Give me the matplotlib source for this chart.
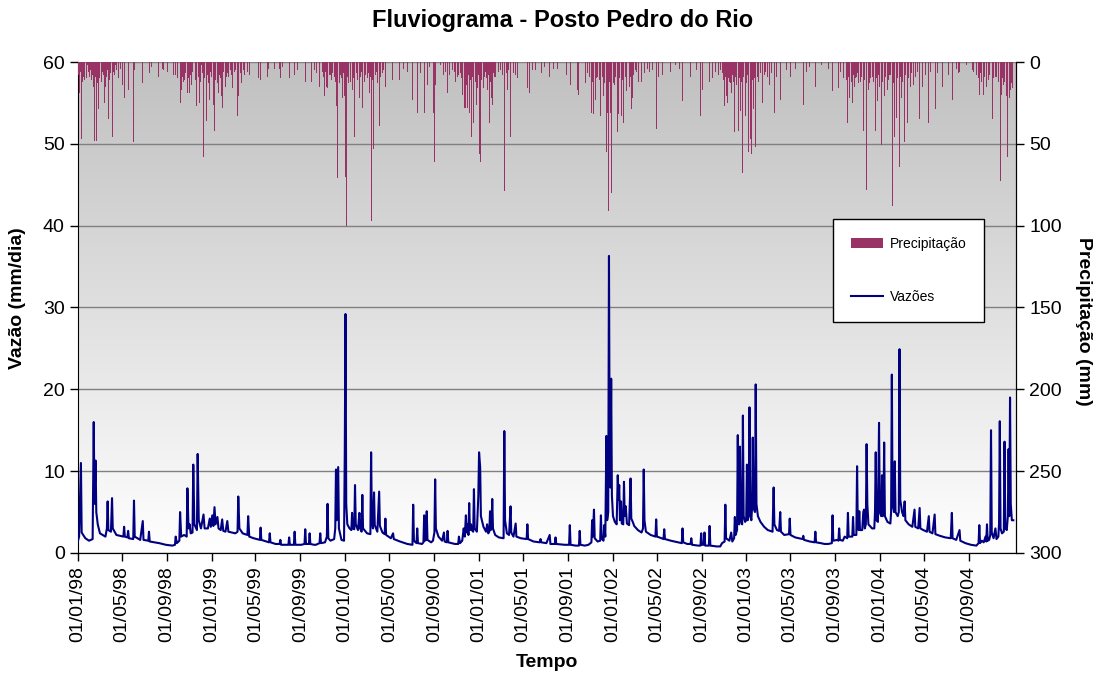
import numpy as np
import pandas as pd
import matplotlib
matplotlib.use('Agg')
import matplotlib.pyplot as plt
import matplotlib.dates as mdates
from matplotlib.colors import LinearSegmentedColormap

# ----- dados (dias contados a partir de 01/01/1998) -----
INICIO = '1998-01-01'

dias_vazao = [
    # 1998
    0, 3, 8, 10, 20, 30, 40, 43, 45, 48, 50, 54, 60, 75, 79, 81, 83, 90, 93, 95, 105, 124, 126, 128,
    135, 137, 139, 151, 153, 155, 170, 177, 179, 192, 194, 196, 222, 240, 258, 265, 267, 270, 277,
    279, 282, 290, 297, 299, 302, 305, 308, 313, 315, 318, 325, 327, 330, 336, 343, 346, 355, 360,
    # 1999
    363, 367, 370, 373, 376, 381, 384, 390, 394, 397, 403, 408, 411, 420, 430, 436, 438, 441, 450,
    463, 465, 468, 480, 497, 499, 501, 515, 522, 524, 526, 540, 551, 553, 555, 575, 577, 579, 590,
    592, 594, 610, 619, 621, 623, 631, 633, 635, 645, 650, 660, 662, 664, 675, 680, 682, 684, 690,
    700, 703, 705, 707, 711, 713, 720, 727, 729,
    # 2000
    731, 733, 736, 742, 747, 749, 751, 755, 757, 759, 765, 769, 771, 775, 777, 779, 790, 799, 801,
    803, 806, 809, 811, 818, 823, 825, 832, 838, 840, 842, 855, 861, 863, 880, 900, 914, 916, 918,
    925, 927, 929, 940, 944, 946, 948, 951, 953, 955, 965, 970, 974, 976, 978, 985, 995, 1000, 1002,
    1008, 1010, 1012, 1030, 1039, 1041, 1044, 1050, 1054, 1057, 1060, 1062, 1065, 1067, 1069, 1071,
    1074, 1076, 1080, 1082, 1084, 1090, 1094,
    # 2001
    1096, 1099, 1101, 1108, 1115, 1118, 1121, 1124, 1126, 1128, 1130, 1132, 1134, 1140, 1150, 1163,
    1165, 1167, 1172, 1178, 1182, 1184, 1190, 1196, 1198, 1210, 1226, 1228, 1230, 1245, 1262, 1264,
    1266, 1280, 1289, 1291, 1303, 1305, 1307, 1330, 1342, 1344, 1346, 1360, 1369, 1371, 1373, 1385,
    1395, 1403, 1405, 1407, 1410, 1412, 1420, 1427, 1429, 1431, 1436, 1438, 1441, 1444, 1446, 1449,
    1451, 1453, 1455,
    # 2002
    1457, 1459, 1462, 1467, 1472, 1475, 1477, 1479, 1481, 1484, 1486, 1490, 1492, 1494, 1497, 1500,
    1506, 1510, 1512, 1516, 1520, 1530, 1540, 1544, 1546, 1548, 1552, 1565, 1578, 1580, 1582, 1595,
    1600, 1602, 1604, 1620, 1640, 1650, 1652, 1654, 1665, 1674, 1676, 1678, 1695, 1701, 1703, 1705,
    1710, 1712, 1714, 1724, 1726, 1728, 1745, 1755, 1760, 1767, 1769, 1771, 1780, 1785, 1788, 1793,
    1795, 1797, 1801, 1803, 1805, 1807, 1809, 1811, 1815, 1817, 1819, 1823,
    # 2003
    1826, 1828, 1830, 1833, 1835, 1837, 1840, 1842, 1844, 1846, 1850, 1852, 1854, 1858, 1865, 1875,
    1885, 1898, 1901, 1903, 1910, 1916, 1919, 1921, 1930, 1943, 1945, 1947, 1960, 1980, 1982, 1984,
    2000, 2013, 2015, 2017, 2030, 2040, 2050, 2060, 2062, 2064, 2075, 2078, 2080, 2082, 2090, 2095,
    2102, 2104, 2106, 2112, 2116, 2118, 2120, 2127, 2129, 2131, 2133, 2135, 2137, 2143, 2146, 2148,
    2150, 2153, 2155, 2157, 2160, 2170, 2176, 2178, 2180, 2182, 2186, 2189,
    # 2004
    2191, 2195, 2197, 2199, 2201, 2203, 2205, 2212, 2220, 2222, 2224, 2226, 2230, 2232, 2234, 2240,
    2243, 2245, 2247, 2252, 2256, 2259, 2261, 2270, 2280, 2286, 2288, 2296, 2300, 2302, 2310, 2320,
    2325, 2327, 2335, 2341, 2343, 2355, 2370, 2385, 2388, 2390, 2400, 2409, 2411, 2425, 2440, 2455,
    2461, 2463, 2465, 2470, 2475, 2480, 2482, 2484, 2486, 2490, 2493, 2495, 2497, 2502, 2507, 2510,
    2515, 2517, 2519, 2521, 2525, 2530, 2532, 2534, 2538, 2541, 2543, 2545, 2547, 2549, 2552, 2556,
]

vazao = [
    # 1998
    1.5, 2.0, 11.0, 2.5, 1.8, 1.5, 1.7, 16.0, 6.0, 11.3, 5.0, 3.5, 2.4, 2.0, 3.0, 6.3, 2.8, 2.6, 6.7,
    3.0, 2.2, 2.0, 3.2, 2.0, 1.9, 2.7, 1.8, 1.7, 6.4, 2.0, 1.6, 3.9, 1.6, 1.5, 2.6, 1.4, 1.2, 1.0,
    0.9, 1.0, 2.0, 1.2, 1.5, 5.0, 2.0, 2.2, 2.0, 7.9, 3.0, 3.5, 2.4, 2.5, 10.8, 3.5, 2.8, 12.1, 4.0,
    3.0, 4.7, 3.0, 3.0, 4.2,
    # 1999
    3.2, 4.6, 3.3, 5.6, 3.5, 4.4, 3.0, 2.8, 4.1, 2.7, 2.6, 3.9, 2.6, 2.5, 2.4, 2.6, 6.9, 3.0, 2.4,
    2.2, 4.5, 2.0, 1.8, 1.6, 3.1, 1.6, 1.4, 1.3, 2.4, 1.3, 1.1, 1.1, 1.6, 1.0, 1.0, 1.9, 1.0, 1.0,
    2.6, 1.0, 1.0, 1.1, 2.9, 1.1, 1.1, 2.4, 1.1, 1.0, 1.0, 1.2, 2.4, 1.2, 1.3, 2.0, 6.0, 1.8, 1.5,
    1.7, 3.0, 10.2, 4.0, 10.5, 3.0, 1.6, 1.5, 12.0,
    # 2000
    29.2, 6.0, 3.5, 3.0, 2.8, 4.9, 3.0, 2.9, 8.3, 3.5, 2.8, 4.9, 3.0, 2.6, 7.1, 3.0, 2.4, 2.3, 12.3,
    4.0, 3.0, 7.4, 3.4, 2.6, 7.5, 3.3, 2.5, 2.3, 4.2, 2.2, 1.8, 2.4, 1.7, 1.4, 1.1, 1.0, 5.9, 1.5,
    1.2, 3.0, 1.2, 1.1, 1.3, 4.6, 1.5, 1.6, 5.1, 1.6, 1.3, 1.5, 2.5, 9.0, 3.0, 2.0, 1.5, 2.5, 1.4,
    1.3, 2.7, 1.3, 1.1, 1.1, 2.0, 1.2, 1.5, 3.0, 2.0, 4.6, 2.5, 3.5, 2.2, 6.1, 2.8,
    3.5, 2.8, 2.6, 7.8, 3.0, 2.6, 7.0,
    # 2001
    12.3, 10.5, 4.5, 3.2, 2.6, 3.5, 2.4, 2.6, 5.1, 2.8, 3.0, 6.6, 3.0, 2.2, 1.9, 1.8,
    14.9, 4.0, 2.4, 2.2, 5.7, 2.5, 2.0, 3.6, 2.0, 1.8, 1.7, 3.5, 1.7, 1.4, 1.3, 1.7,
    1.3, 1.2, 2.2, 1.1, 1.1, 1.9, 1.1, 1.0, 1.0, 3.4, 1.0, 0.9, 0.9, 2.7, 1.0, 0.9,
    1.0, 1.3, 4.0, 2.0, 5.3, 1.8, 1.4, 1.5, 4.6, 1.8, 1.5, 3.4, 2.0, 14.3, 4.0, 5.0,
    36.3, 10.0, 8.0,
    # 2002
    21.3, 7.0, 4.5, 3.8, 3.5, 9.5, 6.5, 8.3, 4.0, 6.3, 3.6, 3.5, 8.7, 4.5, 5.7, 3.6,
    3.4, 9.1, 4.2, 3.8, 3.3, 2.8, 2.5, 3.0, 10.2, 4.0, 2.6, 2.2, 2.0, 4.1, 2.0, 1.8,
    1.7, 2.9, 1.7, 1.5, 1.3, 1.2, 3.0, 1.3, 1.1, 1.1, 1.8, 1.0, 0.9, 0.9, 2.4, 1.0,
    1.0, 2.5, 0.9, 0.9, 3.3, 0.9, 0.8, 0.8, 1.2, 1.4, 5.9, 1.8, 1.5, 2.5, 1.4, 1.8,
    4.4, 2.2, 2.8, 14.4, 4.0, 3.5, 13.0, 4.0, 3.5, 16.8, 4.5, 3.8,
    # 2003
    4.0, 10.8, 4.0, 4.5, 17.8, 5.0, 4.0, 5.5, 14.1, 5.5, 5.0, 20.6, 6.0, 4.5, 3.8, 3.2,
    2.8, 2.6, 8.0, 3.5, 2.8, 2.7, 5.0, 2.6, 2.2, 2.3, 4.2, 2.2, 1.9, 1.7, 2.1, 1.6,
    1.4, 1.3, 2.6, 1.3, 1.2, 1.1, 1.1, 1.2, 4.6, 1.5, 1.6, 1.5, 3.0, 1.6, 1.5, 2.0,
    1.8, 4.9, 2.0, 2.0, 2.0, 4.4, 2.2, 2.2, 10.6, 3.0, 2.8, 5.1, 2.8, 2.8, 5.0, 5.3,
    3.0, 3.5, 13.3, 6.0, 3.5, 3.0, 3.0, 5.0, 12.3, 4.0, 3.8, 15.9,
    # 2004
    5.0, 4.5, 9.5, 4.5, 4.8, 13.5, 4.5, 3.8, 3.6, 5.0, 21.8, 6.0, 5.0, 11.2, 5.0, 4.5,
    5.0, 24.9, 6.5, 5.0, 4.5, 6.3, 4.0, 3.5, 3.2, 5.3, 3.2, 3.0, 5.5, 3.0, 2.8, 2.6,
    4.5, 2.6, 2.4, 4.7, 2.3, 2.1, 1.9, 1.8, 4.9, 1.8, 1.6, 2.8, 1.5, 1.2, 1.0, 0.9,
    1.2, 3.4, 1.2, 1.5, 1.3, 2.0, 1.4, 3.5, 1.5, 1.6, 2.2, 15.0, 2.5, 1.8, 3.0, 1.7,
    2.0, 3.6, 16.1, 3.0, 2.4, 2.6, 13.6, 3.0, 2.8, 4.5, 12.7, 4.5, 19.0, 6.0, 4.0, 4.0,
]

# chuvas mais fortes (mm)
dias_chuva = [
    5, 10, 13, 19, 25, 40, 42, 45, 50, 53, 55, 58, 72, 75, 80, 83, 86, 94, 102, 110, 121, 126, 137,
    151, 154, 175, 196, 219, 235, 244, 260, 267, 273, 279, 282, 292, 298, 304, 317, 325, 331, 337,
    342, 350, 360, 369, 372, 380, 383, 392, 394, 402, 405, 423, 431, 436, 439, 448, 464, 469, 492,
    500, 519, 538, 551, 554, 578, 592, 622, 639, 660, 667, 673, 680, 682, 690, 696, 706, 710, 714,
    723, 728, 731, 734, 740, 749, 756, 769, 778, 796, 802, 808, 819, 824, 841, 859, 879, 914, 928,
    936, 947, 955, 960, 971, 974, 977, 990, 999, 1010, 1023, 1032, 1041, 1050, 1055, 1060, 1064,
    1069, 1075, 1082, 1089, 1093, 1098, 1100, 1107, 1119, 1124, 1130, 1132, 1139, 1155, 1165, 1173,
    1181, 1189, 1196, 1200, 1228, 1233, 1241, 1266, 1288, 1300, 1334, 1345, 1365, 1369, 1388, 1402,
    1410, 1414, 1420, 1429, 1435, 1443, 1446, 1448, 1451, 1455, 1459, 1464, 1473, 1478, 1484, 1492,
    1500, 1507, 1512, 1514, 1523, 1533, 1539, 1544, 1557, 1561, 1582, 1587, 1598, 1632, 1653, 1675,
    1702, 1707, 1725, 1734, 1755, 1766, 1771, 1775, 1781, 1786, 1795, 1805, 1811, 1816, 1823, 1833,
    1837, 1841, 1847, 1852, 1870, 1891, 1904, 1909, 1919, 1936, 1948, 1983, 2015, 2032, 2050, 2062,
    2077, 2091, 2103, 2109, 2116, 2123, 2128, 2134, 2146, 2154, 2159, 2166, 2179, 2186, 2191, 2195,
    2204, 2212, 2218, 2225, 2232, 2237, 2244, 2250, 2259, 2266, 2274, 2283, 2300, 2308, 2323, 2342,
    2348, 2363, 2379, 2389, 2405, 2427, 2448, 2463, 2475, 2484, 2498, 2506, 2520, 2524, 2532, 2536,
    2541, 2545, 2548,
]

chuva = [
    19, 47, 12, 11, 2, 8, 15, 48, 48, 13, 29, 10, 25, 15, 5, 35, 11, 46, 2, 10, 14, 22, 17,
    49, 5, 13, 7, 9, 5, 6, 8, 8, 10, 25, 17, 11, 19, 19, 33, 27, 25, 2,
    58, 36, 23, 26, 42, 13, 19, 21, 28, 15, 9, 16, 5, 33, 21, 13, 6, 8, 10,
    11, 9, 4, 4, 10, 10, 8, 12, 12, 15, 6, 21, 15, 16, 8, 7, 27, 71, 13,
    22, 21, 70, 100, 13, 17, 46, 22, 28, 19, 97, 53, 13, 39, 15, 11, 11, 23, 31,
    7, 31, 14, 3, 31, 61, 14, 2, 8, 19, 5, 12, 8, 20, 28, 28, 28,
    31, 46, 37, 26, 16, 56, 61, 16, 17, 37, 22, 26, 9, 5, 79, 17,
    46, 7, 8, 10, 16, 19, 5, 7, 9, 4, 8, 14, 17, 20, 13, 31,
    32, 23, 9, 33, 21, 55, 24, 31, 91, 31, 80, 13, 43, 32, 33, 37,
    18, 15, 29, 22, 5, 12, 12, 32, 4, 6, 41, 9, 8, 2, 24, 9,
    33, 17, 12, 10, 5, 27, 21, 25, 12, 19, 43, 42, 30, 68, 33, 55,
    47, 56, 29, 52, 25, 14, 31, 9, 23, 5, 9, 26, 15, 2, 4, 18,
    16, 10, 37, 22, 25, 15, 9, 13, 42, 78, 17, 10, 42, 24, 15, 51,
    21, 17, 8, 88, 46, 34, 64, 22, 49, 37, 15, 14, 35, 15, 37, 29,
    7, 15, 8, 23, 7, 2, 6, 20, 20, 15, 35, 9, 73, 20, 12, 21,
    58, 22, 17,
]

# chuvas miudas, que preenchem as estacoes chuvosas (mm)
dias_chuva_miuda = [
    2, 4, 7, 15, 17, 22, 28, 31, 34, 37, 47, 60, 63, 66, 69, 77, 89, 97, 100, 106, 115,
    276, 285, 288, 295, 301, 307, 310, 313, 320, 328, 334, 340, 345, 353, 356, 363, 366, 375, 377,
    386, 389, 397, 399, 408, 412, 416, 420, 427, 445, 452, 456,
    645, 652, 670, 677, 686, 693, 700, 703, 716, 719, 726, 737, 744, 746, 752, 760, 763, 772, 775,
    782, 786, 790, 793, 799, 805, 812, 815, 828, 832, 836,
    1005, 1015, 1028, 1036, 1045, 1047, 1052, 1057, 1062, 1067, 1072, 1078, 1085, 1087, 1091, 1095,
    1102, 1104, 1110, 1113, 1116, 1121, 1127, 1135, 1142, 1148, 1160, 1170, 1177,
    1392, 1398, 1405, 1407, 1417, 1424, 1426, 1432, 1438, 1440, 1453, 1457, 1462, 1467, 1470, 1476,
    1481, 1487, 1489, 1495, 1498, 1503, 1510, 1518, 1527, 1548, 1570,
    1742, 1750, 1760, 1763, 1769, 1778, 1784, 1789, 1792, 1798, 1800, 1808, 1813, 1819, 1826, 1829,
    1844, 1849, 1856, 1860, 1865, 1875, 1880, 1885, 1896,
    2085, 2096, 2100, 2106, 2113, 2119, 2126, 2131, 2138, 2142, 2150, 2162, 2170, 2174, 2182, 2188,
    2199, 2208, 2215, 2221, 2228, 2240, 2247, 2254, 2262, 2270, 2278, 2290, 2295, 2315, 2330,
    2445, 2455, 2460, 2467, 2470, 2478, 2488, 2492, 2501, 2511, 2515, 2527, 2529, 2539, 2550, 2553,
    2555,
    200, 230, 520, 560, 600, 890, 900, 1250, 1275, 1310, 1620, 1645, 1690, 1960, 1990, 2000, 2380,
    2400, 2410,
]

chuva_miuda = [
    8, 12, 6, 9, 7, 10, 6, 9, 5, 11, 9, 7, 12, 6, 8, 9, 7, 6, 8, 5, 4,
    6, 9, 12, 7, 10, 8, 14, 6, 11, 9, 12, 7, 10, 8, 13, 6, 9, 11, 7,
    8, 10, 6, 12, 7, 9, 5, 8, 6, 7, 5, 8,
    5, 7, 9, 6, 8, 11, 9, 12, 8, 10, 7, 9, 12, 8, 10, 7, 11, 9, 6,
    12, 8, 10, 7, 9, 11, 8, 6, 9, 7, 5,
    6, 8, 6, 9, 7, 10, 12, 9, 14, 8, 11, 9, 12, 7, 10, 8,
    11, 7, 9, 6, 10, 8, 12, 7, 9, 6, 8, 7, 5,
    7, 9, 12, 8, 10, 7, 11, 9, 13, 8, 12, 9, 10, 14, 9, 12,
    10, 8, 11, 9, 13, 7, 9, 8, 6, 7, 5,
    6, 8, 7, 11, 9, 10, 13, 8, 12, 9, 14, 10, 12, 9, 13, 8,
    11, 10, 9, 12, 7, 8, 6, 9, 7,
    6, 8, 11, 9, 12, 8, 10, 7, 12, 9, 11, 13, 9, 12, 10, 8,
    12, 9, 11, 8, 13, 10, 9, 12, 8, 10, 7, 9, 6, 8, 6,
    5, 8, 10, 7, 12, 9, 11, 8, 10, 9, 12, 10, 14, 11, 13, 9,
    16,
    3, 4, 4, 3, 5, 4, 6, 5, 3, 4, 6, 4, 5, 4, 6, 3, 5,
    4, 6,
]

# ----- estilo -----
plt.rcParams.update({'font.family': ['Liberation Sans', 'DejaVu Sans'],
                     'font.size': 14})

COR_VAZAO = '#000080'
COR_CHUVA = '#993366'

t0 = pd.Timestamp(INICIO)
t_vazao = t0 + pd.to_timedelta(dias_vazao, unit='D')
t_chuva = t0 + pd.to_timedelta(dias_chuva, unit='D')
t_miuda = t0 + pd.to_timedelta(dias_chuva_miuda, unit='D')

fig = plt.figure(figsize=(10.97, 6.77), dpi=100)
ax = fig.add_axes([0.0711, 0.1832, 0.8553, 0.7252])

x_ini = mdates.date2num(pd.Timestamp('1998-01-01'))
x_fim = mdates.date2num(pd.Timestamp('2005-01-08'))

# fundo em degrade (cinza no topo, branco embaixo)
degrade = LinearSegmentedColormap.from_list('fundo', ['#c0c0c0', '#ffffff'])
ax.imshow(np.linspace(0, 1, 256).reshape(-1, 1), cmap=degrade, aspect='auto',
          extent=[x_ini, x_fim, 0, 60], zorder=0)

linha, = ax.plot(t_vazao, vazao, color=COR_VAZAO, lw=1.5, zorder=3, label='Vazões')

ax.set_xlim(x_ini, x_fim)
ax.set_ylim(0, 60)
ax.set_yticks(range(0, 61, 10))
ax.yaxis.grid(True, color='#808080', lw=1)

ticks = pd.date_range('1998-01-01', '2004-09-01', freq='4MS')
ax.set_xticks(mdates.date2num(ticks))
ax.set_xticklabels([d.strftime('%d/%m/%y') for d in ticks], rotation=90)

ax.set_ylabel('Vazão (mm/dia)', fontweight='bold', fontsize=14)
ax.yaxis.set_label_coords(-0.0554, 0.52)
ax.set_xlabel('Tempo', fontweight='bold', fontsize=14)
ax.xaxis.set_label_coords(0.5, -0.205)
fig.text(0.513, 0.970, 'Fluviograma - Posto Pedro do Rio', fontweight='bold', fontsize=17,
         ha='center', va='center')

# precipitacao no eixo secundario, invertido
ax2 = ax.twinx()
barras = ax2.bar(t_chuva, chuva, width=2.7, color=COR_CHUVA, lw=0, antialiased=False,
                 label='Precipitação')
ax2.bar(t_miuda, chuva_miuda, width=2.7, color=COR_CHUVA, lw=0, antialiased=False)
ax2.set_ylim(300, 0)
ax2.set_yticks(range(0, 301, 50))
ax2.set_ylabel('Precipitação (mm)', fontweight='bold', fontsize=14, rotation=270)
ax2.yaxis.set_label_coords(1.081, 0.4725)
ax2.set_xlim(x_ini, x_fim)

for a in (ax, ax2):
    a.spines['top'].set_visible(False)
    a.tick_params(direction='out', length=6, width=1, labelsize=14)
ax2.spines['left'].set_visible(False)

leg = ax2.legend([barras, linha], ['Precipitação', 'Vazões'], loc='upper left',
                 bbox_to_anchor=(0.805, 0.68), fontsize=10, frameon=True, fancybox=False,
                 edgecolor='black', framealpha=1, labelspacing=2.8, borderpad=1.3,
                 handlelength=2.3, handletextpad=0.45, borderaxespad=0)
leg.get_frame().set_linewidth(1)

fig.savefig('out.png', dpi=100)
